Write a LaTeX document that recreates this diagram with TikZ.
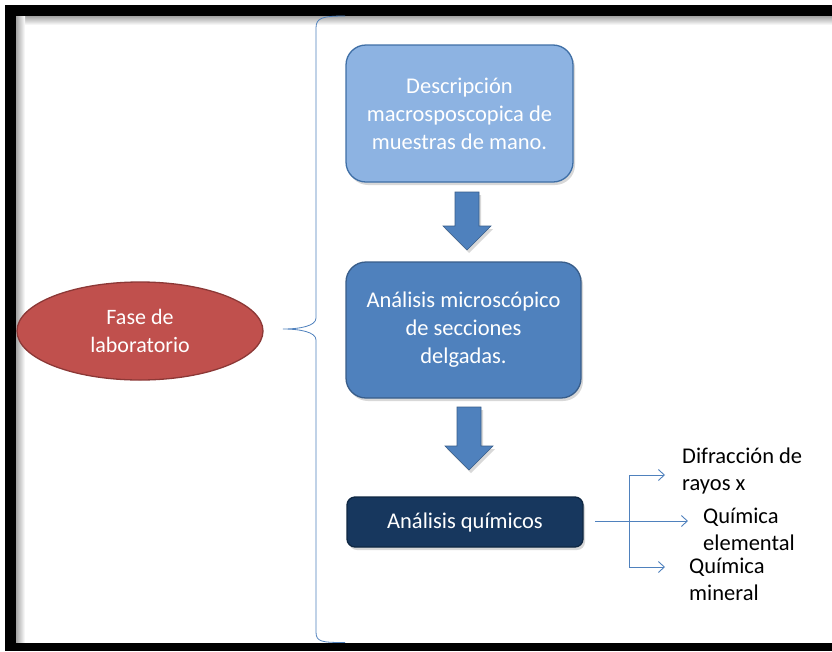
\documentclass[tikz,border=0pt]{standalone}
\usepackage{fontspec}
\setmainfont{Carlito}
\usetikzlibrary{shapes.geometric,shadows,arrows.meta}
\definecolor{boxa}{HTML}{8DB3E2}
\definecolor{boxad}{HTML}{3F6FA6}
\definecolor{boxb}{HTML}{4F81BD}
\definecolor{boxbd}{HTML}{385D8A}
\definecolor{boxc}{HTML}{17375E}
\definecolor{boxcd}{HTML}{0E2742}
\definecolor{redf}{HTML}{C0504D}
\definecolor{redd}{HTML}{8C3836}
\definecolor{linec}{HTML}{4F81BD}
\newcommand{\blockdown}[3]{%
  \path[blockarrow] (#1-12,#2) -- (#1+12,#2) -- (#1+12,#3-24) -- (#1+24,#3-24) -- (#1,#3)
    -- (#1-24,#3-24) -- (#1-12,#3-24) -- cycle;}
\begin{document}
\begin{tikzpicture}[x=1pt,y=-1pt,
  box/.style={draw, line width=1.3pt, rounded corners=20pt, align=center, text=white,
    font=\fontsize{22.5}{28}\selectfont, inner sep=0pt,
    drop shadow={shadow xshift=2pt, shadow yshift=-3pt, opacity=0.3}},
  lbl/.style={align=left, font=\fontsize{22.5}{26.5}\selectfont, text=black, inner sep=0pt, anchor=north west},
  conn/.style={draw=linec, line width=0.9pt},
  tip/.style={-{Straight Barb[length=6pt,width=11pt]}},
  blockarrow/.style={fill=boxb, draw=boxbd, line width=0.6pt,
    drop shadow={shadow xshift=2pt, shadow yshift=-3pt, opacity=0.3}}]
\useasboundingbox (0,0) rectangle (832,651);
\fill[white] (0,0) rectangle (832,651);
% frame with inner shade
\shade[top color=black!40, bottom color=white] (15,15) rectangle (832,25);
\shade[left color=black!40, right color=white] (15,15) rectangle (25,643);
\fill[black] (5,5) rectangle (832,15.5);
\fill[black] (5,5) rectangle (15.5,651);
\fill[black] (5,642.5) rectangle (832,651);

% brace
\draw[conn, line width=0.8pt] (345,16) .. controls (322,16) and (316,18) .. (316,28)
  -- (316,318) .. controls (316,326) and (300,329) .. (283,329)
  .. controls (300,329) and (316,332) .. (316,340)
  -- (316,632) .. controls (316,642) and (322,642.5) .. (345,642.5);

% ellipse
\node[ellipse, draw=redd, line width=1.3pt, fill=redf, minimum width=246pt, minimum height=98pt,
  inner sep=0pt, align=center, text=white, font=\fontsize{22}{28}\selectfont] (fase) at (140,331)
  {Fase de\\laboratorio};

% boxes
\node[box, fill=boxa, draw=boxad, minimum width=227pt, minimum height=137pt] (desc) at (459.5,113.5)
  {Descripción\\macrosposcopica de\\muestras de mano.};
\node[box, fill=boxb, draw=boxbd, minimum width=235pt, minimum height=136pt] (anal) at (463.5,330)
  {Análisis microscópico\\de secciones\\delgadas.};
\node[box, fill=boxc, draw=boxcd, rounded corners=8pt, minimum width=236pt, minimum height=50pt] (quim) at (465,522)
  {Análisis químicos};

% block arrows
\blockdown{467}{192}{250}
\blockdown{469}{407}{470}

% connectors
\coordinate (s) at (595,521);
\coordinate (vt) at (629,475);
\coordinate (vb) at (629,567);
\coordinate (e1) at (665,475);
\coordinate (e2) at (688,521);
\coordinate (e3) at (665,567);
\draw[conn] (vt) -- (vb);
\draw[conn, tip] (s) -- (e2);
\draw[conn, tip] (vt) -- (e1);
\draw[conn, tip] (vb) -- (e3);

% labels
\node[lbl] (l1) at (682,448) {Difracción de\\rayos x};
\node[lbl] (l2) at (703,508) {Química\\elemental};
\node[lbl] (l3) at (689,558) {Química\\mineral};
\end{tikzpicture}
\end{document}
